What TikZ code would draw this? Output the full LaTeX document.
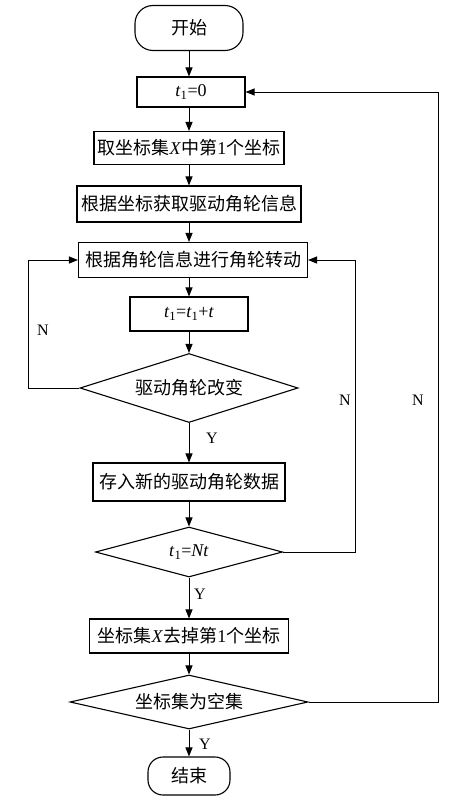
\documentclass[tikz,border=0pt]{standalone}
\usepackage{fontspec}
\setmainfont{Liberation Serif}
\newfontfamily\cjk{Noto Sans CJK SC}
\usetikzlibrary{shapes.geometric,arrows.meta}
\begin{document}
\begin{tikzpicture}[x=1pt,y=-1pt,
  every node/.style={font=\fontsize{18}{20}\selectfont, inner sep=0pt},
  proc/.style={draw, line width=1.1pt, rectangle, align=center},
  term/.style={draw, line width=1.1pt, rectangle, rounded corners=18pt},
  dec/.style={draw, line width=1.1pt, diamond},
  arr/.style={line width=1pt, -{Triangle[length=9pt,width=7pt]}},
  lbl/.style={font=\fontsize{16}{18}\selectfont}
]
\useasboundingbox (0,0) rectangle (449,800);
\node[term, minimum width=108pt, minimum height=45pt] (start) at (189,28) {\cjk 开始};
\node[proc, minimum width=108pt, minimum height=30pt] (t0) at (191,92) {\textit{t}\textsubscript{1}=0};
\node[proc, minimum width=190pt, minimum height=33pt] (take) at (189,148) {{\cjk 取坐标集}\textit{X}{\cjk 中第}1{\cjk 个坐标}};
\node[proc, minimum width=224pt, minimum height=36pt] (get) at (189,204) {\cjk 根据坐标获取驱动角轮信息};
\node[proc, minimum width=229pt, minimum height=35pt] (rot) at (193,260) {\cjk 根据角轮信息进行角轮转动};
\node[proc, minimum width=118pt, minimum height=34pt] (inc) at (189,314) {\textit{t}\textsubscript{1}=\textit{t}\textsubscript{1}+\textit{t}};
\node[dec, aspect=3.16, minimum width=218pt, minimum height=69pt] (d1) at (189,388) {\cjk 驱动角轮改变};
\node[proc, minimum width=192pt, minimum height=38pt] (store) at (189,482) {\cjk 存入新的驱动角轮数据};
\node[dec, aspect=3.74, minimum width=187pt, minimum height=50pt] (d2) at (189,552) {\textit{t}\textsubscript{1}=\textit{Nt}};
\node[proc, minimum width=199pt, minimum height=34pt] (remove) at (189,636) {{\cjk 坐标集}\textit{X}{\cjk 去掉第}1{\cjk 个坐标}};
\node[dec, aspect=4.4, minimum width=238pt, minimum height=54pt] (d3) at (189,702) {\cjk 坐标集为空集};
\node[term, minimum width=82pt, minimum height=38pt, rounded corners=15pt] (end) at (189,776) {\cjk 结束};

\draw[arr] (start.south) -- (start.south |- t0.north);
\draw[arr] (t0.south -| take.north) -- (take.north);
\draw[arr] (take) -- (get);
\draw[arr] (get.south) -- (get.south |- rot.north);
\draw[arr] (rot.south -| inc.north) -- (inc.north);
\draw[arr] (inc) -- (d1);
\draw[arr] (d1) -- (store);
\draw[arr] (store) -- (d2);
\draw[arr] (d2) -- (remove);
\draw[arr] (remove) -- (d3);
\draw[arr] (d3) -- (end);

\coordinate (cl) at (28,388);
\coordinate (cm) at (355,552);
\coordinate (cr) at (438,702);
\draw[arr] (d1.west) -- (cl) |- (rot.west);
\draw[arr] (d2.east) -- (cm) |- (rot.east);
\draw[arr] (d3.east) -- (cr) |- (t0.east);

\node[lbl] (n1) at (43,330) {N};
\node[lbl] (n2) at (345,400) {N};
\node[lbl] (n3) at (418,400) {N};
\node[lbl] (y1) at (212,438) {Y};
\node[lbl] (y2) at (200,594) {Y};
\node[lbl] (y3) at (205,744) {Y};
\end{tikzpicture}
\end{document}
